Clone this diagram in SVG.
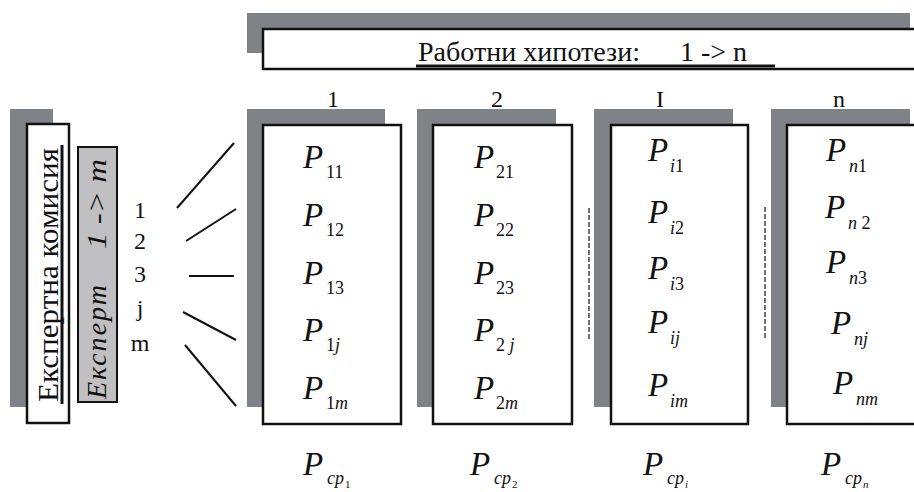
<svg xmlns="http://www.w3.org/2000/svg" width="914" height="492" viewBox="0 0 914 492">
<style>
.sh{fill:#7f8387}
.bx{fill:#fff;stroke:#111;stroke-width:2.5}
.t{font-family:'Liberation Serif','Times New Roman',serif;fill:#111}
.n{font-size:24px}
.P{font-family:'Liberation Serif','Times New Roman',serif;font-style:italic;font-size:33px;fill:#111}
.s{font-family:'Liberation Serif','Times New Roman',serif;font-size:18px;fill:#111}
.i{font-style:italic}
.ss{font-family:'Liberation Serif','Times New Roman',serif;font-size:11px;fill:#111}
.ln{stroke:#111;stroke-width:2;fill:none}
.ds{stroke:#111;stroke-width:1.2;stroke-dasharray:5 2;fill:none}
</style>
<rect width="914" height="492" fill="#fff"/>
<g id="title">
<path class="sh" d="M247 13H910V29H263V53H247Z"/>
<rect class="bx" x="263" y="29" width="660" height="40"/>
<text class="t" font-size="28" x="418" y="61" textLength="222" lengthAdjust="spacingAndGlyphs">Работни хипотези:</text>
<text class="t" font-size="28" x="680" y="61">1 -&gt; n</text>
<line x1="416" y1="66" x2="775" y2="66" stroke="#111" stroke-width="3"/>
</g>
<g id="commission">
<path class="sh" d="M10 109H53V124H27V407H10Z"/>
<rect class="bx" x="27" y="124" width="42" height="299"/>
<text class="t" font-size="30" transform="translate(58 402) rotate(-90)" textLength="254" lengthAdjust="spacingAndGlyphs">Експертна комисия</text>
<line x1="62" y1="145" x2="62" y2="404" stroke="#111" stroke-width="3"/>
</g>
<g id="experts">
<rect x="78" y="147" width="39" height="255" fill="#c0c0c2" stroke="#111" stroke-width="2"/>
<text class="t i" font-size="28" transform="translate(106 399) rotate(-90)" textLength="114" lengthAdjust="spacing">Експерт</text>
<text class="t i" font-size="28" transform="translate(106 249) rotate(-90)" textLength="90" lengthAdjust="spacingAndGlyphs">1 -&gt; m</text>
</g>
<g id="expert-numbers" class="t n" text-anchor="middle">
<text x="140" y="218">1</text>
<text x="140" y="249">2</text>
<text x="140" y="282">3</text>
<text x="140" y="316">j</text>
<text x="140" y="351">m</text>
</g>
<g id="connectors">
<line class="ln" x1="177" y1="208" x2="234" y2="143"/>
<line class="ln" x1="186" y1="241" x2="236" y2="209"/>
<line class="ln" x1="189" y1="276" x2="234" y2="276"/>
<line class="ln" x1="183" y1="312" x2="236" y2="340"/>
<line class="ln" x1="185" y1="345" x2="236" y2="406"/>
<line class="ds" x1="589" y1="208" x2="589" y2="340"/>
<line class="ds" x1="765" y1="207" x2="765" y2="339"/>
</g>
<g id="col-labels" class="t n" text-anchor="middle">
<text x="333" y="107">1</text>
<text x="497" y="107">2</text>
<text x="660" y="107">I</text>
<text x="839" y="107">n</text>
</g>
<g id="hyp-1">
<path class="sh" d="M247 109H385V125H263V407H247Z"/>
<rect class="bx" x="263" y="125" width="138" height="299"/>
<text class="P" x="303" y="168">P</text><text class="s" x="326" y="178">11</text>
<text class="P" x="303" y="226">P</text><text class="s" x="326" y="236">12</text>
<text class="P" x="303" y="284">P</text><text class="s" x="326" y="294">13</text>
<text class="P" x="303" y="341">P</text><text class="s" x="326" y="351">1<tspan class="i">j</tspan></text>
<text class="P" x="303" y="399">P</text><text class="s" x="326" y="409">1<tspan class="i">m</tspan></text>
</g>
<g id="hyp-2">
<path class="sh" d="M417 109H556V125H433V407H417Z"/>
<rect class="bx" x="433" y="125" width="139" height="299"/>
<text class="P" x="474" y="168">P</text><text class="s" x="496" y="178">21</text>
<text class="P" x="474" y="226">P</text><text class="s" x="496" y="236">22</text>
<text class="P" x="474" y="284">P</text><text class="s" x="496" y="294">23</text>
<text class="P" x="474" y="341">P</text><text class="s" x="496" y="351">2 <tspan class="i">j</tspan></text>
<text class="P" x="474" y="399">P</text><text class="s" x="496" y="409">2<tspan class="i">m</tspan></text>
</g>
<g id="hyp-i">
<path class="sh" d="M594 109H733V125H611V407H594Z"/>
<rect class="bx" x="611" y="125" width="137" height="299"/>
<text class="P" x="648" y="161">P</text><text class="s" x="670" y="172"><tspan class="i">i</tspan>1</text>
<text class="P" x="648" y="223">P</text><text class="s" x="670" y="234"><tspan class="i">i</tspan>2</text>
<text class="P" x="648" y="279">P</text><text class="s" x="670" y="290"><tspan class="i">i</tspan>3</text>
<text class="P" x="648" y="333">P</text><text class="s i" x="670" y="344">ij</text>
<text class="P" x="648" y="396">P</text><text class="s i" x="670" y="407">im</text>
</g>
<g id="hyp-n">
<path class="sh" d="M771 109H910V125H787V407H771Z"/>
<rect class="bx" x="787" y="125" width="138" height="299"/>
<text class="P" x="826" y="161">P</text><text class="s" x="849" y="172"><tspan class="i">n</tspan>1</text>
<text class="P" x="825" y="218">P</text><text class="s" x="848" y="229"><tspan class="i">n</tspan> 2</text>
<text class="P" x="826" y="273">P</text><text class="s" x="849" y="284"><tspan class="i">n</tspan>3</text>
<text class="P" x="831" y="334">P</text><text class="s i" x="854" y="345">nj</text>
<text class="P" x="833" y="394">P</text><text class="s i" x="856" y="405">nm</text>
</g>
<g id="averages">
<text class="P" x="303" y="475">P</text><text class="s i" x="327" y="484">cp</text><text class="ss" x="345" y="488">1</text>
<text class="P" x="470" y="475">P</text><text class="s i" x="494" y="484">cp</text><text class="ss" x="512" y="488">2</text>
<text class="P" x="643" y="475">P</text><text class="s i" x="667" y="484">cp</text><text class="ss i" x="685" y="488">i</text>
<text class="P" x="821" y="475">P</text><text class="s i" x="845" y="484">cp</text><text class="ss i" x="863" y="488">n</text>
</g>
</svg>
